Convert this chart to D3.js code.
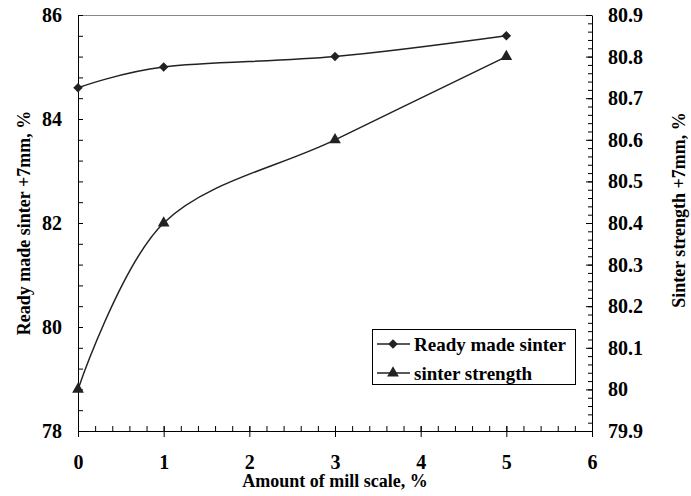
<!DOCTYPE html>
<html>
<head>
<meta charset="utf-8">
<script src="https://cdn.jsdelivr.net/npm/d3@7"></script>
<style>
  body { margin: 0; background: #fff; }
  svg { display: block; }
  text { font-family: "Liberation Serif", "Times New Roman", serif; font-weight: bold; fill: #000; }
  .axis path, .axis line { stroke: #000; }
</style>
</head>
<body>
<svg width="691" height="496"></svg>
<script>
// data
var millScale = [0, 1, 3, 5];
var readyMade = [84.6, 85.0, 85.2, 85.6];      // left axis
var strength = [80.0, 80.4, 80.6, 80.8];       // right axis
var seriesNames = ["Ready made sinter", "sinter strength"];

var xTicks = [0, 1, 2, 3, 4, 5, 6];
var yLeftTicks = [78, 80, 82, 84, 86];
var yRightTicks = [79.9, 80, 80.1, 80.2, 80.3, 80.4, 80.5, 80.6, 80.7, 80.8, 80.9];

var svg = d3.select("svg");

var pLeft = 78, pRight = 592, pTop = 15, pBottom = 431;

var x = d3.scaleLinear().domain([0, 6]).range([pLeft, pRight]);
var yL = d3.scaleLinear().domain([78, 86]).range([pBottom, pTop]);
var yR = d3.scaleLinear().domain([79.9, 80.9]).range([pBottom, pTop]);

var styleTicks = function(g) {
    g.selectAll("text")
        .attr("font-size", 20)
        .attr("font-family", "Liberation Serif, serif")
        .attr("font-weight", "bold");
};

// top frame line
svg.append("line")
    .attr("x1", pLeft).attr("x2", pRight)
    .attr("y1", pTop + 0.5).attr("y2", pTop + 0.5)
    .attr("stroke", "#888").attr("stroke-width", 1);

// minor ticks
var xMinor = d3.range(0, 31).map(function(i) { return i * 0.2; });
var yLMinor = d3.range(0, 21).map(function(i) { return 78 + i * 0.4; });
var yRMinor = d3.range(0, 51).map(function(i) { return 79.9 + i * 0.02; });

svg.append("g").attr("class", "axis")
    .attr("transform", "translate(0," + pBottom + ")")
    .call(d3.axisBottom(x).tickValues(xMinor).tickSize(-5).tickFormat("").tickSizeOuter(0));

// major x ticks cross the axis
svg.append("g").attr("class", "axis")
    .attr("transform", "translate(0," + pBottom + ")")
    .call(d3.axisBottom(x).tickValues(xTicks).tickSize(6).tickPadding(18).tickSizeOuter(0).tickFormat(d3.format("d")))
    .call(function(g) { g.select(".domain").remove(); })
    .call(styleTicks)
    .selectAll(".tick").append("line").attr("y2", -5).attr("stroke", "#000");

svg.append("g").attr("class", "axis")
    .attr("transform", "translate(" + pLeft + ",0)")
    .call(d3.axisRight(yL).tickValues(yLMinor).tickSize(5).tickFormat("").tickSizeOuter(0));

svg.append("g").attr("class", "axis")
    .attr("transform", "translate(" + pLeft + ",0)")
    .call(d3.axisLeft(yL).tickValues(yLeftTicks).tickSize(0).tickPadding(16).tickFormat(d3.format("d")))
    .call(function(g) { g.select(".domain").remove(); })
    .call(styleTicks);

svg.append("g").attr("class", "axis")
    .attr("transform", "translate(" + pRight + ",0)")
    .call(d3.axisLeft(yR).tickValues(yRMinor).tickSize(4).tickFormat("").tickSizeOuter(0));

svg.append("g").attr("class", "axis")
    .attr("transform", "translate(" + pRight + ",0)")
    .call(d3.axisRight(yR).tickValues(yRightTicks).tickSize(0).tickPadding(16)
        .tickFormat(function(d) { return String(+d.toFixed(1)); }))
    .call(function(g) { g.select(".domain").remove(); })
    .call(styleTicks)
    .selectAll(".tick").append("line").attr("x2", -6).attr("stroke", "#000");

// axis titles
svg.append("text")
    .attr("x", (pLeft + pRight) / 2).attr("y", 487)
    .attr("text-anchor", "middle").attr("font-size", 18)
    .text("Amount of mill scale, %");

svg.append("text")
    .attr("transform", "translate(30," + ((pTop + pBottom) / 2) + ") rotate(-90)")
    .attr("text-anchor", "middle").attr("font-size", 18)
    .text("Ready made sinter  +7mm, %");

svg.append("text")
    .attr("transform", "translate(685,210) rotate(-90)")
    .attr("text-anchor", "middle").attr("font-size", 18)
    .text("Sinter strength +7mm, %");

// lines
var lineL = d3.line()
    .x(function(d, i) { return x(millScale[i]); })
    .y(function(d) { return yL(d); })
    .curve(d3.curveCardinal.tension(0));

var lineR = d3.line()
    .x(function(d, i) { return x(millScale[i]); })
    .y(function(d) { return yR(d); })
    .curve(d3.curveCardinal.tension(0));

svg.append("path").datum(readyMade)
    .attr("d", lineL).attr("fill", "none")
    .attr("stroke", "#222").attr("stroke-width", 1.5);

svg.append("path").datum(strength)
    .attr("d", lineR).attr("fill", "none")
    .attr("stroke", "#222").attr("stroke-width", 1.5);

var diamond = d3.symbol().type(d3.symbolSquare).size(45);
var triangle = d3.symbol().type(d3.symbolTriangle).size(60);

svg.selectAll(".dia").data(readyMade).enter().append("path")
    .attr("class", "dia")
    .attr("d", diamond)
    .attr("transform", function(d, i) { return "translate(" + x(millScale[i]) + "," + yL(d) + ") rotate(45)"; })
    .attr("fill", "#222");

svg.selectAll(".tri").data(strength).enter().append("path")
    .attr("class", "tri")
    .attr("d", triangle)
    .attr("transform", function(d, i) { return "translate(" + x(millScale[i]) + "," + yR(d) + ")"; })
    .attr("fill", "#222");

// legend
var lg = svg.append("g").attr("transform", "translate(372,329)");
lg.append("rect")
    .attr("x", 0.5).attr("y", 0.5).attr("width", 203).attr("height", 55)
    .attr("fill", "#fff").attr("stroke", "#000").attr("stroke-width", 1);

var rows = lg.selectAll(".row").data(seriesNames).enter().append("g")
    .attr("transform", function(d, i) { return "translate(0," + (15 + i * 29) + ")"; });

rows.append("line")
    .attr("x1", 5).attr("x2", 38).attr("stroke", "#222").attr("stroke-width", 1.5);
rows.append("path")
    .attr("d", function(d, i) { return i === 0 ? diamond() : triangle(); })
    .attr("transform", function(d, i) { return "translate(21,0)" + (i === 0 ? " rotate(45)" : ""); })
    .attr("fill", "#222");
rows.append("text")
    .attr("x", 42).attr("dy", "0.35em")
    .attr("font-size", 19)
    .text(function(d) { return d; });
</script>
</body>
</html>
